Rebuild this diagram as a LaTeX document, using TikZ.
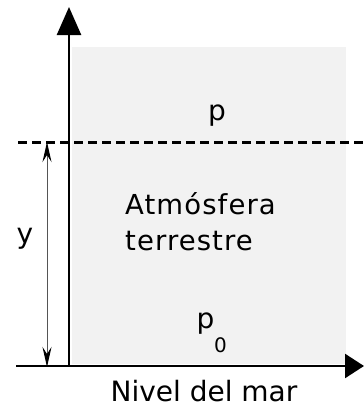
\documentclass[tikz,border=0pt]{standalone}
\usepackage{fontspec}
\setmainfont{DejaVu Sans}
\newfontfamily\widefont[LetterSpace=4]{DejaVu Sans}
\usetikzlibrary{arrows.meta}
\definecolor{atmo}{HTML}{F2F2F2}
\definecolor{dimgray}{HTML}{555555}
\begin{document}
\begin{tikzpicture}[x=1pt,y=1pt,
  axis/.style={line width=2.5pt, black},
  lbl/.style={inner sep=0pt, anchor=base, text depth=0pt, font=\fontsize{28}{36}\selectfont},
  sublbl/.style={inner sep=0pt, anchor=base, font=\fontsize{20}{20}\selectfont},
  dimline/.style={line width=1pt, dimgray, {Stealth[length=20pt,width=9pt,inset=7pt,black]}-{Stealth[length=20pt,width=9pt,inset=7pt,black]}}
]
\useasboundingbox (0,0) rectangle (364,-408);
% atmosphere region
\fill[atmo] (72,-47) rectangle (346,-364);
% coordinates
\coordinate (O) at (69,-366);
\coordinate (Ytop) at (69,-7);
\coordinate (Xl) at (16,-366);
\coordinate (Xr) at (364,-366);
\coordinate (Dl) at (18,-142);
\coordinate (Dr) at (364,-142);
\coordinate (Ya) at (47,-142);
\coordinate (Yb) at (47,-367);
% dashed level
\draw[line width=3pt, dash pattern=on 9pt off 5pt] (Dl) -- (Dr);
% axes
\draw[axis, -{Triangle[length=19pt,width=24pt]}] (Xl) -- (Xr);
\draw[axis, -{Triangle[length=28pt,width=24pt]}] (O) -- (Ytop);
% height dimension
\draw[dimline] (Ya) -- (Yb);
% labels
\node[lbl] (ylab) at (25,-243) {y};
\node[lbl] (ptop) at (217,-120) {p};
\node[lbl, anchor=base west] (atm1) at (125,-214) {\widefont\fontsize{27.5}{36}\selectfont Atmósfera};
\node[lbl, anchor=base west] (atm2) at (125,-250) {\widefont\fontsize{27.5}{36}\selectfont terrestre};
\node[lbl] (p0) at (205.5,-328) {p};
\node[sublbl] (p0sub) at (220.5,-352) {0};
\node[lbl] (nivel) at (204,-401) {Nivel del mar};
\end{tikzpicture}
\end{document}
